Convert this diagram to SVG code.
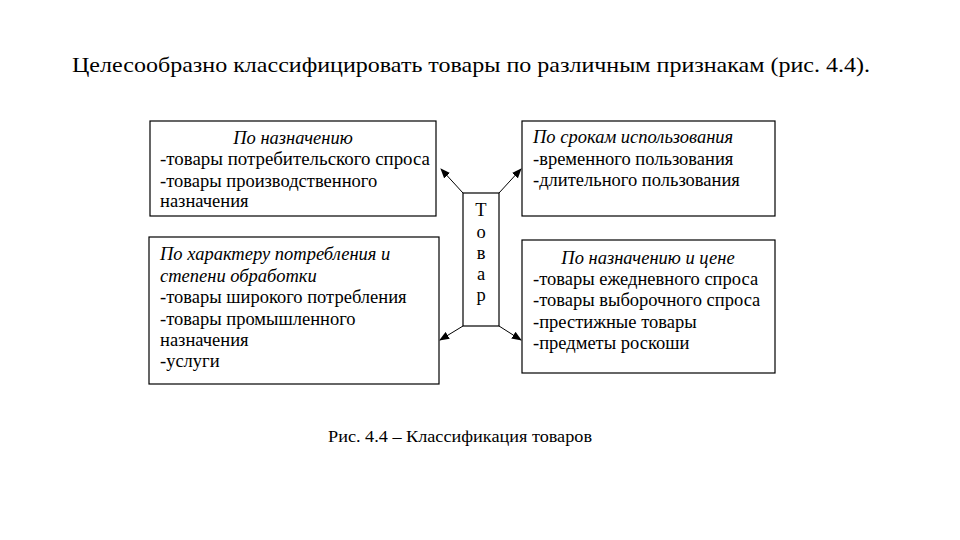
<svg xmlns="http://www.w3.org/2000/svg" width="960" height="540" viewBox="0 0 960 540">
<defs>
<style>
text{fill:#000}
.t{font-size:18.5px}
.i{font-style:italic}
rect{fill:#fff;stroke:#000;stroke-width:1.2}
line{stroke:#000;stroke-width:1}
</style>
<marker id="a" markerWidth="10" markerHeight="8" refX="9" refY="4" orient="auto" markerUnits="userSpaceOnUse"><path d="M0,0 L10,4 L0,8 z" fill="#000"/></marker>
</defs>
<rect width="960" height="540" style="stroke:none"/>
<g font-family="'Liberation Serif', 'DejaVu Serif', serif">
<text x="72" y="72" font-size="22" textLength="798" lengthAdjust="spacingAndGlyphs">Целесообразно классифицировать товары по различным признакам (рис. 4.4).</text>
<g id="connectors">
<line x1="463" y1="193" x2="441" y2="169" marker-end="url(#a)"/>
<line x1="499" y1="193" x2="521" y2="169" marker-end="url(#a)"/>
<line x1="463" y1="326" x2="440" y2="340" marker-end="url(#a)"/>
<line x1="499" y1="326" x2="521" y2="340" marker-end="url(#a)"/>
</g>
<g id="n1"><rect x="150" y="121" width="286" height="95"/>
<text class="t i" x="293" y="144" text-anchor="middle">По назначению</text>
<text class="t" x="160" y="165" textLength="270" lengthAdjust="spacingAndGlyphs">-товары потребительского спроса</text>
<text class="t" x="160" y="187">-товары производственного</text>
<text class="t" x="160" y="207">назначения</text></g>
<g id="n2"><rect x="522" y="121" width="253" height="95"/>
<text class="t i" x="533" y="143">По срокам использования</text>
<text class="t" x="533" y="165">-временного пользования</text>
<text class="t" x="533" y="186">-длительного пользования</text></g>
<g id="n3"><rect x="149" y="237" width="290" height="147"/>
<text class="t i" x="160" y="260">По характеру потребления и</text>
<text class="t i" x="160" y="282">степени обработки</text>
<text class="t" x="160" y="303">-товары широкого потребления</text>
<text class="t" x="160" y="325">-товары промышленного</text>
<text class="t" x="160" y="346">назначения</text>
<text class="t" x="160" y="367">-услуги</text></g>
<g id="n4"><rect x="522" y="240" width="253" height="133"/>
<text class="t i" x="648" y="264" text-anchor="middle">По назначению и цене</text>
<text class="t" x="533" y="285">-товары ежедневного спроса</text>
<text class="t" x="533" y="306">-товары выборочного спроса</text>
<text class="t" x="533" y="328">-престижные товары</text>
<text class="t" x="533" y="349">-предметы роскоши</text></g>
<g id="n0"><rect x="463" y="193" width="36" height="133"/>
<text class="t" x="481" y="216" text-anchor="middle">Т</text>
<text class="t" x="481" y="238" text-anchor="middle">о</text>
<text class="t" x="481" y="259" text-anchor="middle">в</text>
<text class="t" x="481" y="280" text-anchor="middle">а</text>
<text class="t" x="481" y="301" text-anchor="middle">р</text></g>
<text x="328" y="442" font-size="16" textLength="264" lengthAdjust="spacingAndGlyphs">Рис. 4.4 – Классификация товаров</text>
</g>
</svg>
